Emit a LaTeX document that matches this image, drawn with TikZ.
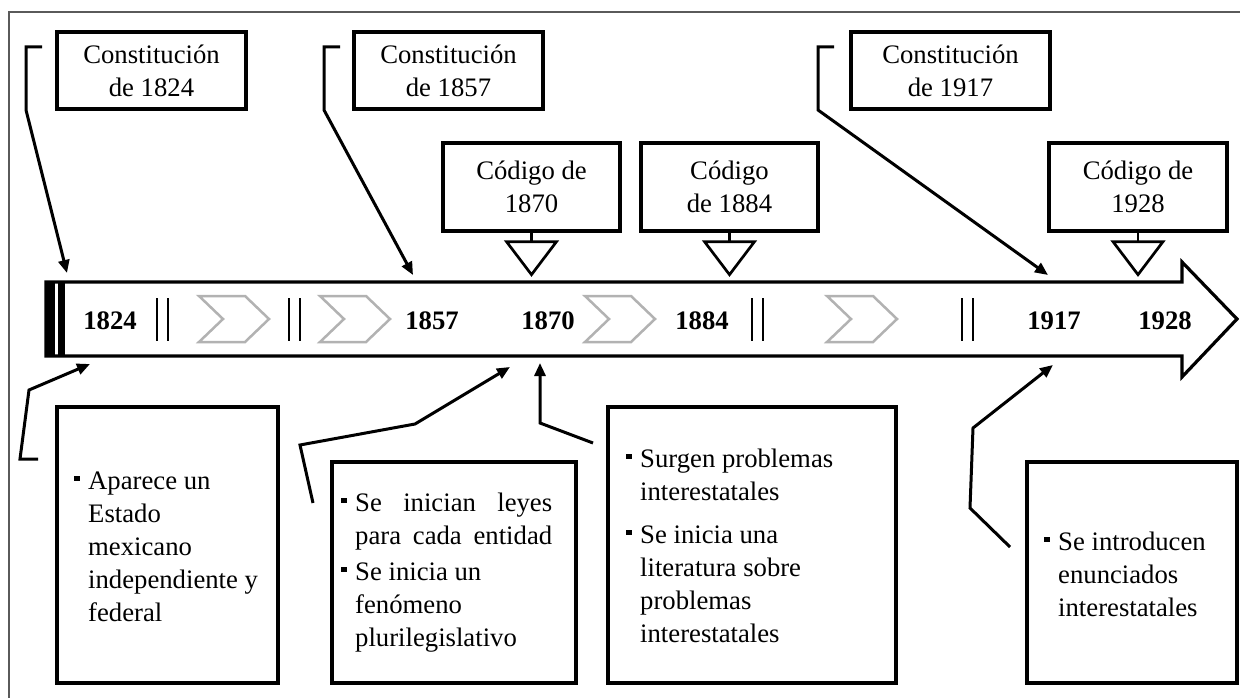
\documentclass[tikz,border=0pt]{standalone}
\usepackage{fontspec}
\setmainfont{Liberation Serif}
\usetikzlibrary{arrows.meta}

\definecolor{chevgray}{RGB}{178,178,178}
\definecolor{framecol}{RGB}{90,90,90}

% square bullet hung in the left margin of a list line
\newcommand\bul{\llap{\rule[8pt]{5.5pt}{5.5pt}\hspace{8.5pt}}}
% grey chevron on the time bar, given its left x
\newcommand\chevron[1]{\draw[chev] (#1,296) -- ++(46,0) -- ++(24,23) -- ++(-24,23) -- ++(-46,0) -- ++(24,-23) -- cycle;}
% pair of thin separator bars, given the x of the first one
\newcommand\dbar[1]{\draw[bars] (#1,298) -- (#1,341) (#1+11,298) -- (#1+11,341);}

\tikzset{
  box/.style={draw, line width=3.3pt, fill=white, inner sep=0pt},
  lbl/.style={font=\fontsize{26.7}{33}\selectfont, align=center},
  note/.style={font=\fontsize{26.7}{33}\selectfont, align=left, inner sep=0pt, anchor=north west},
  year/.style={font=\fontsize{26.7}{33}\selectfont\bfseries, anchor=base, inner sep=0pt},
  link/.style={line width=3pt, line join=miter, -{Triangle[length=13pt,width=11pt]}},
  chev/.style={draw=chevgray, line width=2.5pt, line join=miter},
  bars/.style={line width=1.6pt},
  marker/.style={line width=2.7pt, line join=miter, fill=white},
}

\begin{document}
\begin{tikzpicture}[x=1pt, y=-1pt]
\useasboundingbox (0,0) rectangle (1240,698);

% page frame (top and left rules)
\draw[framecol, line width=1.5pt] (1240,12) -- (9,12) -- (9,698);

% ---- time bar ----
\draw[line width=3.2pt, line join=miter, fill=white]
  (46,282) -- (1182,282) -- (1182,262) -- (1237,319) -- (1182,377) -- (1182,356) -- (46,356) -- cycle;
\fill (45,282) rectangle (55,356);
\fill (58,282) rectangle (65,356);

\dbar{157}
\dbar{289}
\dbar{752}
\dbar{962}

\chevron{199}
\chevron{320}
\chevron{585}
\chevron{827}

\node[year] (y1824) at (110,329) {1824};
\node[year] (y1857) at (432,329) {1857};
\node[year] (y1870) at (548,329) {1870};
\node[year] (y1884) at (702,329) {1884};
\node[year] (y1917) at (1054,329) {1917};
\node[year] (y1928) at (1165,329) {1928};

% ---- constitutions ----
\node[box, lbl, minimum width=189pt, minimum height=77pt] (k1824) at (151.5,70.5) {Constitución\\de 1824};
\node[box, lbl, minimum width=189pt, minimum height=77pt] (k1857) at (448.5,70.5) {Constitución\\de 1857};
\node[box, lbl, minimum width=199pt, minimum height=77pt] (k1917) at (950.5,70.5) {Constitución\\de 1917};

% ---- codes, with their markers ----
\node[box, lbl, minimum width=177pt, minimum height=88pt] (c1870) at (531.5,187) {Código de\\1870};
\node[box, lbl, minimum width=177pt, minimum height=88pt] (c1884) at (729.5,187) {Código\\de 1884};
\node[box, lbl, minimum width=178pt, minimum height=88pt] (c1928) at (1138,187) {Código de\\1928};

\foreach \c in {c1870,c1884,c1928}{
  \draw[line width=2.7pt] (\c.south) -- ([shift={(0,9)}]\c.south);
  \draw[marker] ([shift={(-25,9)}]\c.south) -- ([shift={(25,9)}]\c.south) -- ([shift={(0,42)}]\c.south) -- cycle;
}

% ---- description boxes ----
\node[box, minimum width=221pt, minimum height=276pt] (dA) at (167.5,545) {};
\node[box, minimum width=244pt, minimum height=221pt] (dB) at (454,572.5) {};
\node[box, minimum width=288pt, minimum height=276pt] (dC) at (752,545) {};
\node[box, minimum width=210pt, minimum height=221pt] (dD) at (1132,572.5) {};

\node[note] (tA) at (88,465.9) {\strut\bul Aparece un\\Estado\\mexicano\\independiente y\\federal};
\node[note] (tB) at (355,487.9) {\strut\bul\makebox[197pt][s]{Se inician leyes}\\\makebox[197pt][s]{para cada entidad}\\[3pt]\bul Se inicia un\\fenómeno\\plurilegislativo};
\node[note] (tC) at (640,443.9) {\strut\bul Surgen problemas\\interestatales\\[10pt]\bul Se inicia una\\literatura sobre\\problemas\\interestatales};
\node[note] (tD) at (1058,526.9) {\strut\bul Se introducen\\enunciados\\interestatales};

% ---- connector end points ----
\coordinate (s1) at (42,47);   \coordinate (e1) at (67,273);
\coordinate (s2) at (340,47);  \coordinate (e2) at (413,275);
\coordinate (s3) at (834,47);  \coordinate (e3) at (1048,275);
\coordinate (s4) at (38,459);  \coordinate (e4) at (90,364);
\coordinate (s5) at (313,503); \coordinate (e5) at (510,367);
\coordinate (s6) at (593,443); \coordinate (e6) at (540,363);
\coordinate (s7) at (1010,547);\coordinate (e7) at (1053,365);

% ---- connectors ----
\draw[link] (s1) -- (26,47) -- (26,110) -- (e1);
\draw[link] (s2) -- (324,47) -- (324,110) -- (e2);
\draw[link] (s3) -- (818,47) -- (818,110) -- (e3);
\draw[link] (s4) -- (20,459) -- (29,390) -- (e4);
\draw[link] (s5) -- (300,445) -- (415,424) -- (e5);
\draw[link] (s6) -- (540,423) -- (e6);
\draw[link] (s7) -- (970,508) -- (973,428) -- (e7);

\end{tikzpicture}
\end{document}
